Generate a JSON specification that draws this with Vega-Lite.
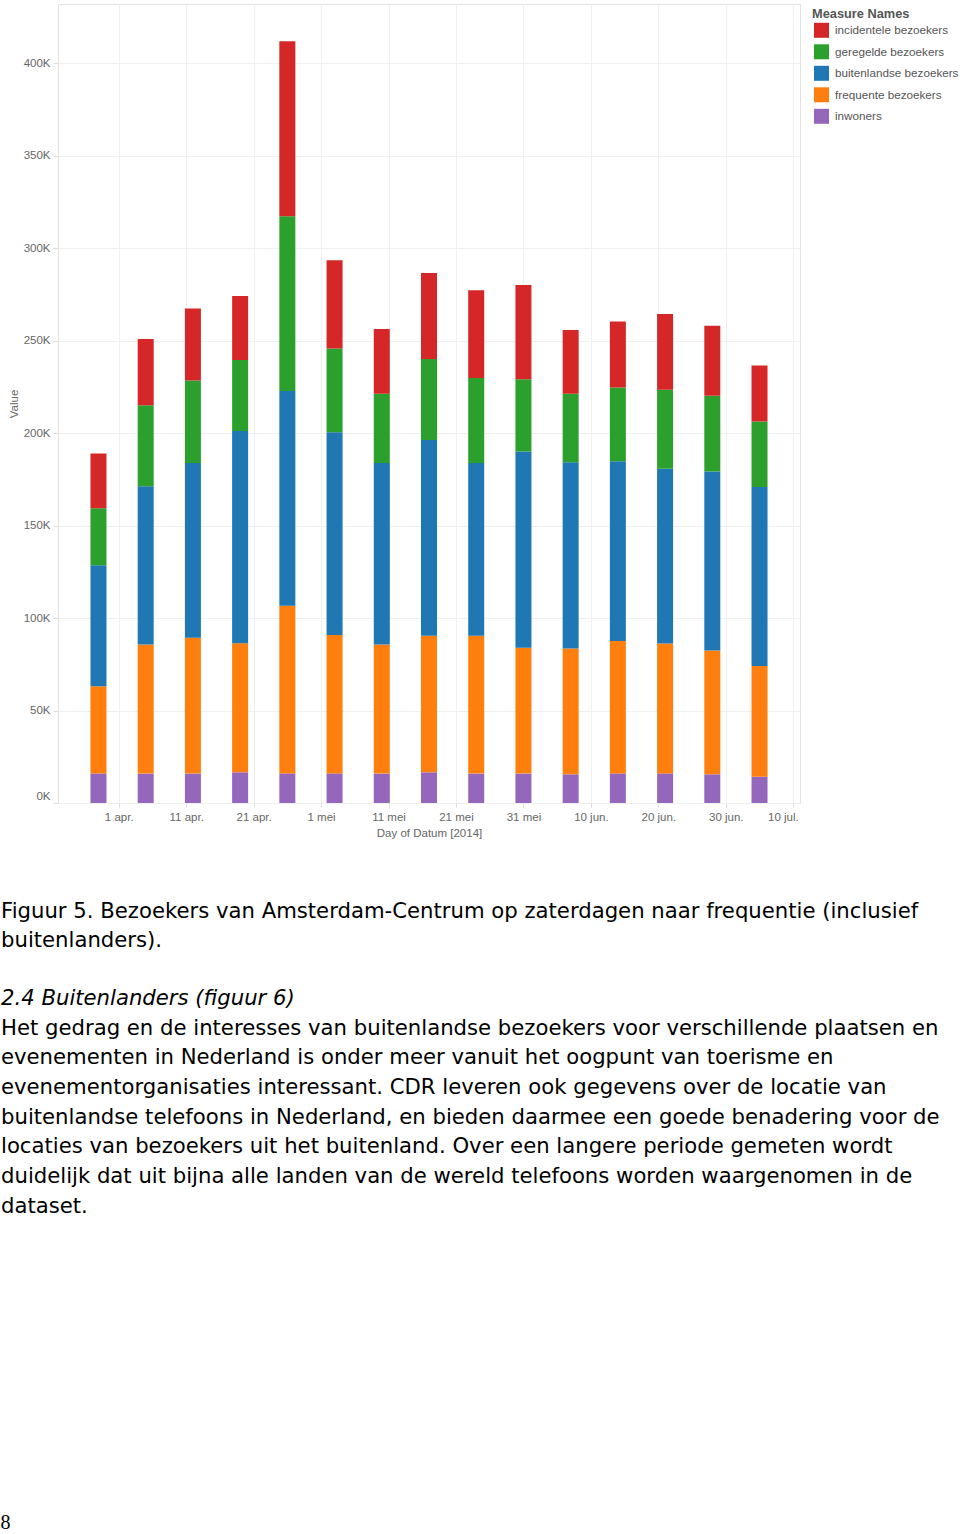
{
  "$schema": "https://vega.github.io/schema/vega-lite/v6.json",
  "background": "white",
  "padding": {"left": 0, "top": 3, "right": 0, "bottom": 0},
  "autosize": {"type": "pad"},
  "config": {
    "font": "Liberation Sans",
    "view": {"stroke": "#e2e2e2"},
    "axis": {
      "labelFont": "Liberation Sans",
      "labelFontSize": 11.5,
      "labelColor": "#666666",
      "titleFont": "Liberation Sans",
      "titleFontSize": 11.5,
      "titleFontWeight": "normal",
      "titleColor": "#666666",
      "gridColor": "#f0f0f0",
      "tickColor": "#dddddd",
      "domain": false
    },
    "legend": {
      "titleFont": "Liberation Sans",
      "titleFontSize": 12.8,
      "titleFontWeight": "bold",
      "titleColor": "#555555",
      "labelFont": "Liberation Sans",
      "labelFontSize": 11.7,
      "labelColor": "#555555"
    }
  },
  "vconcat": [
    {
      "width": 742,
      "height": 799,
      "data": {"values": [
        {"d":"2014-03-29","m":"inwoners","v":16000},{"d":"2014-03-29","m":"frequente bezoekers","v":47100},{"d":"2014-03-29","m":"buitenlandse bezoekers","v":65500},{"d":"2014-03-29","m":"geregelde bezoekers","v":30800},{"d":"2014-03-29","m":"incidentele bezoekers","v":29500},
        {"d":"2014-04-05","m":"inwoners","v":15900},{"d":"2014-04-05","m":"frequente bezoekers","v":69800},{"d":"2014-04-05","m":"buitenlandse bezoekers","v":85600},{"d":"2014-04-05","m":"geregelde bezoekers","v":43700},{"d":"2014-04-05","m":"incidentele bezoekers","v":35900},
        {"d":"2014-04-12","m":"inwoners","v":15900},{"d":"2014-04-12","m":"frequente bezoekers","v":73400},{"d":"2014-04-12","m":"buitenlandse bezoekers","v":94500},{"d":"2014-04-12","m":"geregelde bezoekers","v":44700},{"d":"2014-04-12","m":"incidentele bezoekers","v":38800},
        {"d":"2014-04-19","m":"inwoners","v":16600},{"d":"2014-04-19","m":"frequente bezoekers","v":69800},{"d":"2014-04-19","m":"buitenlandse bezoekers","v":114700},{"d":"2014-04-19","m":"geregelde bezoekers","v":38400},{"d":"2014-04-19","m":"incidentele bezoekers","v":34600},
        {"d":"2014-04-26","m":"inwoners","v":16000},{"d":"2014-04-26","m":"frequente bezoekers","v":90600},{"d":"2014-04-26","m":"buitenlandse bezoekers","v":116100},{"d":"2014-04-26","m":"geregelde bezoekers","v":94600},{"d":"2014-04-26","m":"incidentele bezoekers","v":94500},
        {"d":"2014-05-03","m":"inwoners","v":16000},{"d":"2014-05-03","m":"frequente bezoekers","v":74900},{"d":"2014-05-03","m":"buitenlandse bezoekers","v":109500},{"d":"2014-05-03","m":"geregelde bezoekers","v":45400},{"d":"2014-05-03","m":"incidentele bezoekers","v":47700},
        {"d":"2014-05-10","m":"inwoners","v":15900},{"d":"2014-05-10","m":"frequente bezoekers","v":69800},{"d":"2014-05-10","m":"buitenlandse bezoekers","v":98100},{"d":"2014-05-10","m":"geregelde bezoekers","v":37500},{"d":"2014-05-10","m":"incidentele bezoekers","v":35000},
        {"d":"2014-05-17","m":"inwoners","v":16600},{"d":"2014-05-17","m":"frequente bezoekers","v":73800},{"d":"2014-05-17","m":"buitenlandse bezoekers","v":105800},{"d":"2014-05-17","m":"geregelde bezoekers","v":43800},{"d":"2014-05-17","m":"incidentele bezoekers","v":46600},
        {"d":"2014-05-24","m":"inwoners","v":15900},{"d":"2014-05-24","m":"frequente bezoekers","v":74500},{"d":"2014-05-24","m":"buitenlandse bezoekers","v":93400},{"d":"2014-05-24","m":"geregelde bezoekers","v":46000},{"d":"2014-05-24","m":"incidentele bezoekers","v":47400},
        {"d":"2014-05-31","m":"inwoners","v":15900},{"d":"2014-05-31","m":"frequente bezoekers","v":68100},{"d":"2014-05-31","m":"buitenlandse bezoekers","v":106100},{"d":"2014-05-31","m":"geregelde bezoekers","v":39000},{"d":"2014-05-31","m":"incidentele bezoekers","v":51000},
        {"d":"2014-06-07","m":"inwoners","v":15500},{"d":"2014-06-07","m":"frequente bezoekers","v":68000},{"d":"2014-06-07","m":"buitenlandse bezoekers","v":100800},{"d":"2014-06-07","m":"geregelde bezoekers","v":37000},{"d":"2014-06-07","m":"incidentele bezoekers","v":34400},
        {"d":"2014-06-14","m":"inwoners","v":16000},{"d":"2014-06-14","m":"frequente bezoekers","v":71600},{"d":"2014-06-14","m":"buitenlandse bezoekers","v":97200},{"d":"2014-06-14","m":"geregelde bezoekers","v":39800},{"d":"2014-06-14","m":"incidentele bezoekers","v":35700},
        {"d":"2014-06-21","m":"inwoners","v":16000},{"d":"2014-06-21","m":"frequente bezoekers","v":70200},{"d":"2014-06-21","m":"buitenlandse bezoekers","v":94500},{"d":"2014-06-21","m":"geregelde bezoekers","v":42800},{"d":"2014-06-21","m":"incidentele bezoekers","v":40900},
        {"d":"2014-06-28","m":"inwoners","v":15500},{"d":"2014-06-28","m":"frequente bezoekers","v":66900},{"d":"2014-06-28","m":"buitenlandse bezoekers","v":96900},{"d":"2014-06-28","m":"geregelde bezoekers","v":40900},{"d":"2014-06-28","m":"incidentele bezoekers","v":37900},
        {"d":"2014-07-05","m":"inwoners","v":14200},{"d":"2014-07-05","m":"frequente bezoekers","v":59900},{"d":"2014-07-05","m":"buitenlandse bezoekers","v":96700},{"d":"2014-07-05","m":"geregelde bezoekers","v":35500},{"d":"2014-07-05","m":"incidentele bezoekers","v":30200}
      ]},
      "transform": [
        {"calculate": "indexof(['incidentele bezoekers','geregelde bezoekers','buitenlandse bezoekers','frequente bezoekers','inwoners'], datum.m)", "as": "k"}
      ],
      "mark": {"type": "bar", "width": 16},
      "encoding": {
        "x": {
          "field": "d", "type": "temporal",
          "scale": {"type": "utc", "padding": 0, "nice": false, "domain": [{"year": 2014, "month": 3, "date": 23, "utc": true}, {"year": 2014, "month": 7, "date": 11, "utc": true}]},
          "axis": {
            "title": "Day of Datum [2014]",
            "values": [
              {"year": 2014, "month": 4, "date": 1, "utc": true},
              {"year": 2014, "month": 4, "date": 11, "utc": true},
              {"year": 2014, "month": 4, "date": 21, "utc": true},
              {"year": 2014, "month": 5, "date": 1, "utc": true},
              {"year": 2014, "month": 5, "date": 11, "utc": true},
              {"year": 2014, "month": 5, "date": 21, "utc": true},
              {"year": 2014, "month": 5, "date": 31, "utc": true},
              {"year": 2014, "month": 6, "date": 10, "utc": true},
              {"year": 2014, "month": 6, "date": 20, "utc": true},
              {"year": 2014, "month": 6, "date": 30, "utc": true},
              {"year": 2014, "month": 7, "date": 10, "utc": true}
            ],
            "labelExpr": "utcdate(datum.value) + ' ' + ['jan.','feb.','mrt.','apr.','mei','jun.','jul.','aug.','sep.','okt.','nov.','dec.'][utcmonth(datum.value)]",
            "tickSize": 4,
            "labelPadding": 4,
            "labelFlush": 8,
            "labelFlushOffset": 5,
            "titlePadding": 4.5
          }
        },
        "y": {
          "field": "v", "type": "quantitative", "stack": "zero",
          "scale": {"domain": [0, 432000], "nice": false},
          "axis": {
            "title": "Value",
            "values": [0, 50000, 100000, 150000, 200000, 250000, 300000, 350000, 400000],
            "labelExpr": "datum.value / 1000 + 'K'",
            "tickSize": 5,
            "labelPadding": 3,
            "labelFlush": true,
            "labelFlushOffset": -2,
            "titlePadding": 4
          }
        },
        "order": {"field": "k", "type": "quantitative", "sort": "descending"},
        "color": {
          "field": "m", "type": "nominal",
          "sort": ["incidentele bezoekers", "geregelde bezoekers", "buitenlandse bezoekers", "frequente bezoekers", "inwoners"],
          "scale": {
            "domain": ["incidentele bezoekers", "geregelde bezoekers", "buitenlandse bezoekers", "frequente bezoekers", "inwoners"],
            "range": ["#d62728", "#2ca02c", "#1f77b4", "#ff7f0e", "#9467bd"]
          },
          "legend": {
            "title": "Measure Names",
            "orient": "right",
            "offset": 8,
            "padding": 4,
            "symbolType": "square",
            "symbolSize": 225,
            "symbolStrokeWidth": 0,
            "symbolOpacity": 1,
            "symbolOffset": 2,
            "rowPadding": 6.5,
            "labelOffset": 6,
            "titlePadding": 2
          }
        }
      },
      "title": {
        "text": ["Figuur 5. Bezoekers van Amsterdam-Centrum op zaterdagen naar frequentie (inclusief", "buitenlanders)."],
        "orient": "bottom",
        "anchor": "start",
        "frame": "group",
        "dx": -57,
        "offset": 62,
        "font": "DejaVu Sans",
        "fontSize": 21.2,
        "fontWeight": "normal",
        "color": "#000000",
        "lineHeight": 29.8,
        "limit": 2000
      }
    },
    {
      "width": 742,
      "height": 260,
      "view": {"stroke": null},
      "data": {"values": []},
      "mark": {"type": "point", "opacity": 0},
      "encoding": {},
      "title": {
        "text": "2.4 Buitenlanders (figuur 6)",
        "subtitle": [
          "Het gedrag en de interesses van buitenlandse bezoekers voor verschillende plaatsen en",
          "evenementen in Nederland is onder meer vanuit het oogpunt van toerisme en",
          "evenementorganisaties interessant. CDR leveren ook gegevens over de locatie van",
          "buitenlandse telefoons in Nederland, en bieden daarmee een goede benadering voor de",
          "locaties van bezoekers uit het buitenland. Over een langere periode gemeten wordt",
          "duidelijk dat uit bijna alle landen van de wereld telefoons worden waargenomen in de",
          "dataset."
        ],
        "orient": "top",
        "anchor": "start",
        "frame": "group",
        "dx": -57,
        "offset": 0,
        "font": "DejaVu Sans",
        "fontSize": 21.2,
        "fontStyle": "italic",
        "fontWeight": "normal",
        "color": "#000000",
        "lineHeight": 29.7,
        "subtitleFont": "DejaVu Sans",
        "subtitleFontSize": 21.2,
        "subtitleFontWeight": "normal",
        "subtitleFontStyle": "normal",
        "subtitleColor": "#000000",
        "subtitleLineHeight": 29.7,
        "subtitlePadding": 8.0,
        "limit": 2000
      }
    }
  ],
  "spacing": 36,
  "resolve": {"scale": {"color": "independent"}, "legend": {"color": "independent"}},
  "title": {
    "text": "8",
    "orient": "bottom",
    "anchor": "start",
    "font": "Liberation Serif",
    "fontSize": 20,
    "fontWeight": "normal",
    "color": "#000000",
    "offset": 36
  }
}
